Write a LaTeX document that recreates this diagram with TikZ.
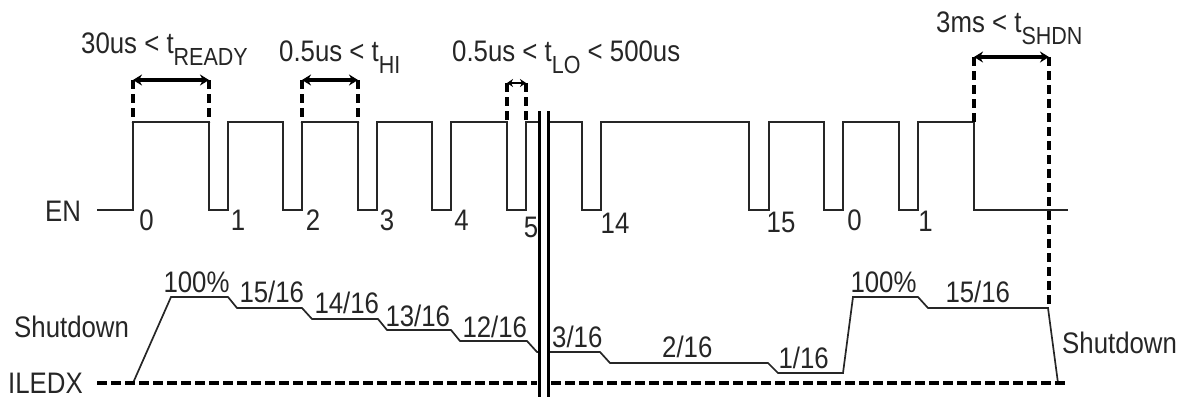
\documentclass[tikz,border=0pt]{standalone}
\usepackage{fontspec}
\setmainfont{Liberation Sans}
\usepackage{graphicx}
\usetikzlibrary{arrows.meta}
\newcommand\vs[1]{\scalebox{1}[1.15]{#1}}
\newcommand\sbs[1]{\raisebox{-10.5pt}{\fontsize{21.5}{21.5}\selectfont #1}}
\begin{document}
\begin{tikzpicture}[x=1pt,y=-1pt,
  wave/.style={line width=1.7pt, black!85, line join=miter},
  lbl/.style={inner sep=0pt, text=black!85, font=\fontsize{25.8}{25.8}\selectfont},
  lw/.style={lbl, anchor=base west},
  lc/.style={lbl, anchor=base},
  dim/.style={line width=3.4pt, {Stealth[length=9pt,width=11pt]}-{Stealth[length=9pt,width=11pt]}},
  dimsmall/.style={line width=2.8pt, {Stealth[length=6pt,width=8pt]}-{Stealth[length=6pt,width=8pt]}},
  guide/.style={line width=3.4pt, dash pattern=on 9pt off 5pt},
  basel/.style={line width=4.2pt, dash pattern=on 10pt off 4pt},
  brk/.style={line width=3pt}]
\useasboundingbox (0,0) rectangle (1187,397);

% EN waveform, left part
\draw[wave] (97,210) -- (133,210) -- (133,122) -- (209,122) -- (209,210) -- (228,210)
  -- (228,122) -- (283,122) -- (283,210) -- (302,210) -- (302,122) -- (358,122)
  -- (358,210) -- (377,210) -- (377,122) -- (432,122) -- (432,210) -- (451,210)
  -- (451,122) -- (507,122) -- (507,210) -- (526,210) -- (526,122) -- (539,122);
% EN waveform, right part
\draw[wave] (548,122) -- (582,122) -- (582,210) -- (601,210) -- (601,122) -- (749,122)
  -- (749,210) -- (769,210) -- (769,122) -- (824,122) -- (824,210) -- (843,210)
  -- (843,122) -- (899,122) -- (899,210) -- (918,210) -- (918,122) -- (974,122)
  -- (974,210) -- (1068,210);

% ILEDX waveform
\draw[wave] (133,383) -- (171,297) -- (228,297) -- (237,308) -- (302,308) -- (312,319)
  -- (378,319) -- (387,330) -- (451,330) -- (460,341) -- (527,341) -- (537,352) -- (539,352);
\draw[wave] (548,352) -- (600,352) -- (610,363) -- (768,363) -- (778,373) -- (843,373)
  -- (853,297) -- (918,297) -- (928,308) -- (1048,308) -- (1058,383);

% ILEDX dashed baseline
\draw[basel] (97,383) -- (537,383);
\draw[basel] (551,383) -- (1068,383);

% break bars
\draw[brk] (539,111) -- (539,397);
\draw[brk] (548,111) -- (548,397);

% timing guides and dimension arrows
\coordinate (r1) at (133,80); \coordinate (r2) at (209,80);
\draw[guide] (r1) -- (133,122); \draw[guide] (r2) -- (209,122);
\draw[dim] (r1) -- (r2);
\coordinate (h1) at (302,80); \coordinate (h2) at (358,80);
\draw[guide] (h1) -- (302,122); \draw[guide] (h2) -- (358,122);
\draw[dim] (h1) -- (h2);
\coordinate (o1) at (507,83); \coordinate (o2) at (526,83);
\draw[guide] (o1) -- (507,122); \draw[guide] (o2) -- (526,122);
\draw[dimsmall] (o1) -- (o2);
\coordinate (s1) at (974,57); \coordinate (s2) at (1049,57);
\draw[guide] (s1) -- (974,122); \draw[guide] (s2) -- (1049,308);
\draw[dim] (s1) -- (s2);

% top labels
\node[lw] (tready) at (81,53) {\vs{30us < t\sbs{READY}}};
\node[lw] (thi) at (279,61) {\vs{0.5us < t\sbs{HI}}};
\node[lw] (tlo) at (452,61) {\vs{0.5us < t\sbs{LO} < 500us}};
\node[lw] (tshdn) at (936,32) {\vs{3ms < t\sbs{SHDN}}};

% side labels
\node[lw] (en) at (45,221) {\vs{EN}};
\node[lw] (sdl) at (14,337) {\vs{Shutdown}};
\node[lw] (sdr) at (1062,353) {\vs{Shutdown}};
\node[lw] (iledx) at (8,393) {\vs{ILEDX}};

% pulse counts
\node[lc] (n0) at (146.5,230) {\vs{0}};
\node[lc] (n1) at (238,230) {\vs{1}};
\node[lc] (n2) at (313,230) {\vs{2}};
\node[lc] (n3) at (387,230) {\vs{3}};
\node[lc] (n4) at (461.5,230) {\vs{4}};
\node[lc] (n5) at (531,237) {\vs{5}};
\node[lc] (n14) at (615,233) {\vs{14}};
\node[lc] (n15) at (781,232) {\vs{15}};
\node[lc] (m0) at (854.5,230) {\vs{0}};
\node[lc] (m1) at (925.5,231) {\vs{1}};

% current levels
\node[lw] (p100a) at (163.3,292) {\vs{100\%}};
\node[lw] (p15a) at (239.3,302) {\vs{15/16}};
\node[lw] (p14) at (314.3,313) {\vs{14/16}};
\node[lw] (p13) at (385.3,326) {\vs{13/16}};
\node[lw] (p12) at (462.3,337) {\vs{12/16}};
\node[lw] (p3) at (552,347) {\vs{3/16}};
\node[lw] (p2) at (662,357) {\vs{2/16}};
\node[lw] (p1) at (778.3,368) {\vs{1/16}};
\node[lw] (p100b) at (850.3,292) {\vs{100\%}};
\node[lw] (p15b) at (945.3,302) {\vs{15/16}};
\end{tikzpicture}
\end{document}
